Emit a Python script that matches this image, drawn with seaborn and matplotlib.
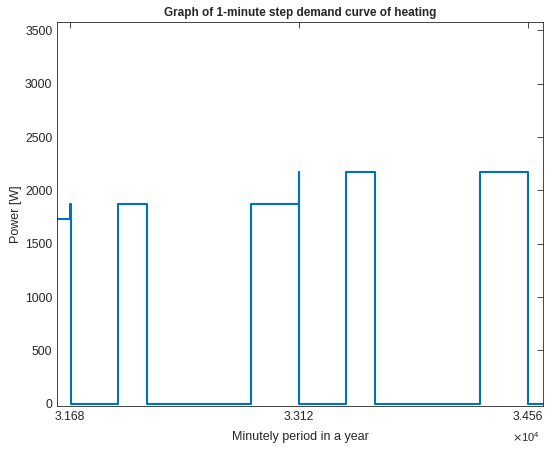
# packages
import numpy as np
import pandas as pd
import seaborn as sns
import matplotlib.pyplot as plt

# step breakpoints (minute of year, power in W)
minutes = [31600, 31680, 31686, 31980, 32165, 32819, 33120, 33122, 33419, 33601, 34260, 34560, 34562, 34656]
power = [1730, 1875, 0, 1875, 0, 1875, 2170, 0, 2170, 0, 2170, 1550, 0, 0]
xticks = [31680, 33120, 34560]
xticklabels = ["3.168", "3.312", "3.456"]
yticks = [0, 500, 1000, 1500, 2000, 2500, 3000, 3500]

df = pd.DataFrame({"minute": minutes, "power": power})

sns.set_style("white")
plt.rcParams["font.family"] = ["Liberation Sans", "DejaVu Sans"]

fig = plt.figure(figsize=(5.45, 4.49), dpi=100)
ax = fig.add_axes([0.105, 0.096, 0.891, 0.854])

sns.lineplot(data=df, x="minute", y="power", drawstyle="steps-post",
             color="#0072BD", linewidth=1.5, ax=ax)

ax.set_xlim(31600, 34656)
ax.set_ylim(-20, 3575)
ax.set_xticks(xticks)
ax.set_xticklabels(xticklabels)
ax.set_yticks(yticks)
ax.tick_params(direction="in", length=4, width=0.6, colors="#262626",
               labelsize=8.8, top=True, right=True, pad=3.5)
for s in ax.spines.values():
    s.set_color("#262626")
    s.set_linewidth(0.6)

ax.set_title("Graph of 1-minute step demand curve of heating",
             fontsize=8.5, fontweight="bold", pad=5)
ax.set_xlabel("Minutely period in a year", fontsize=9, labelpad=6)
ax.set_ylabel("Power [W]", fontsize=9, labelpad=2)
ax.text(0.995, -0.082, r"$\times\mathregular{10^4}$", transform=ax.transAxes,
        ha="right", va="center", fontsize=8, color="#262626")

fig.savefig("out.png", dpi=100)
